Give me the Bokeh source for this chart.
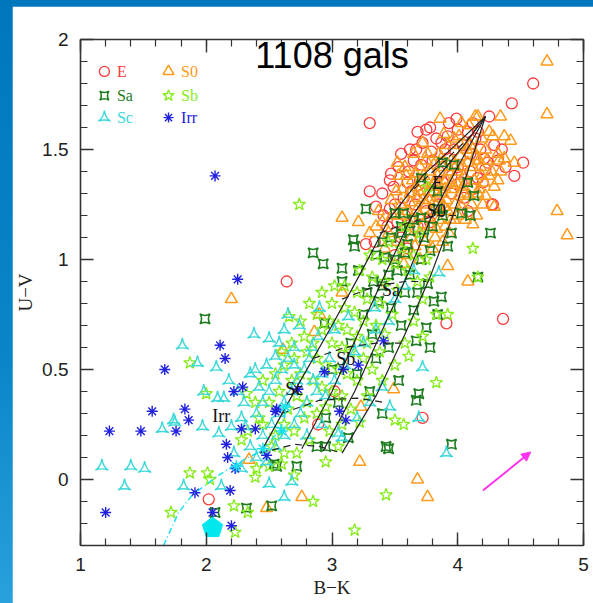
from bokeh.plotting import figure
from bokeh.models import LinearAxis, FixedTicker, Label, Arrow, NormalHead, Range1d
from bokeh.layouts import column
from bokeh.embed import file_html
from bokeh.resources import INLINE
from bokeh.core.properties import value

# ---------------- data ----------------
title_text = "1108 gals"
x_label = "B\u2212K"
y_label = "U\u2212V"
x_ticks = [1, 2, 3, 4, 5]
y_ticks = [0, 0.5, 1, 1.5, 2]
y_tick_labels = ["0", "0.5", "1", "1.5", "2"]

E_pts = [(4.60,1.80),(4.43,1.71),(4.25,1.65),(3.30,1.62),(3.30,1.31),(4.52,1.44),(4.45,1.38),(4.36,0.73),
         (3.91,0.71),(3.34,1.08),(3.27,1.07),(4.28,1.25),(3.46,1.23),(3.41,1.20),(2.64,0.90),(2.02,-0.09),
         (3.72,0.28),(2.89,0.25),(3.02,0.40),(3.55,1.48),(3.67,1.50),(3.75,1.59),(3.78,1.60),(3.47,1.39),
         (3.46,1.36),(3.49,1.33),(4.29,1.52),(4.22,1.41),(4.27,1.25),(4.00,1.59),(4.08,1.58),(4.16,1.58),
         (4.14,1.55),(3.65,1.45),(3.79,1.49),(3.87,1.53),(3.92,1.56),(3.97,1.50),(4.04,1.52),(4.10,1.48),
         (4.21,1.46),(4.24,1.44),(3.57,1.28),(3.63,1.31),(3.73,1.30),(3.81,1.31),(3.53,1.42),(3.61,1.40),
         (3.71,1.43),(3.92,1.46),(4.00,1.42),(4.10,1.40),(4.16,1.37),(4.03,1.35),(3.85,1.40),(3.80,1.45),
         (3.88,1.35),(3.95,1.38),(3.70,1.36),(3.60,1.35),(3.66,1.25),(3.58,1.20),(3.52,1.17),(3.75,1.22),
         (3.85,1.25),(3.95,1.30),(4.05,1.28),(4.12,1.32),(4.20,1.35),(4.32,1.45),(4.35,1.50),(4.18,1.50),
         (3.83,1.55),(3.72,1.53),(3.62,1.50),(3.93,1.62),(3.99,1.64),(3.50,1.25),(3.44,1.15),(3.55,1.10),
         (3.68,1.15),(3.78,1.17),(4.08,1.22),(3.40,1.30),(3.35,1.24),(4.38,1.42),(4.12,1.62),(3.90,1.50),
         (3.68,1.58),(3.60,1.05),(3.50,1.02)]

S0_pts = [(4.71,1.90),(4.71,1.66),(4.34,1.65),(3.86,1.64),(4.03,1.62),(4.14,1.65),(4.79,1.22),(4.87,1.11),
          (4.08,0.90),(3.92,0.97),(3.08,1.19),(3.21,1.17),(3.08,0.85),(2.86,0.67),(2.20,0.82),(2.61,0.59),
          (2.90,0.75),(3.49,0.41),(3.23,0.33),(2.34,0.09),(2.48,-0.13),(2.76,-0.08),(3.68,0.00),(3.76,-0.08),
          (3.22,0.08),(4.16,1.65),(4.09,1.61),(4.28,1.56),(4.37,1.56),(4.42,1.54),(4.32,1.48),(4.33,1.45),
          (4.37,1.46),(4.45,1.44),(4.34,1.40),(4.32,1.36),(4.21,1.35),(4.29,1.33),(4.22,1.29),(4.29,1.24),
          (3.52,1.44),(3.53,1.38),(3.51,1.31),(3.47,1.27),(3.37,1.22),(3.72,1.53),(3.89,1.57),(4.01,1.56),
          (3.66,1.39),(3.69,1.31),(3.77,1.27),(4.01,1.29),(4.17,1.32),(4.11,1.25),(3.60,1.22),(3.65,1.18),
          (3.70,1.20),(3.75,1.25),(3.80,1.22),(3.85,1.28),(3.90,1.32),(3.95,1.35),(4.00,1.40),(4.05,1.38),
          (3.82,1.35),(3.78,1.40),(3.72,1.35),(3.68,1.28),(3.62,1.30),(3.88,1.42),(3.95,1.45),(4.02,1.47),
          (4.08,1.44),(4.12,1.42),(3.58,1.15),(3.63,1.10),(3.70,1.12),(3.78,1.15),(3.85,1.18),(3.92,1.22),
          (3.98,1.25),(4.05,1.30),(3.55,1.25),(3.48,1.20),(3.45,1.12),(3.52,1.08),(3.60,1.02),(3.66,1.06),
          (3.74,1.08),(3.82,1.10),(3.90,1.15),(3.97,1.18),(4.15,1.20),(4.20,1.25),(4.25,1.38),(4.18,1.42),
          (3.40,1.17),(3.42,1.05),(3.57,0.98),(3.70,1.00),(3.80,1.05),(3.88,1.08),(3.93,1.12),(3.75,1.45),
          (3.85,1.48),(3.65,1.48),(3.58,1.42),(3.92,1.52),(4.10,1.52),(4.22,1.50),(4.25,1.58),(3.35,1.15),
          (3.30,1.12),
          (3.62,1.26),(3.67,1.33),(3.73,1.38),(3.79,1.33),(3.84,1.38),(3.86,1.22),(3.91,1.27),(3.96,1.32),
          (4.00,1.34),(4.04,1.42),(4.07,1.35),(4.13,1.36),(4.16,1.30),(4.19,1.38),(4.23,1.45),(4.27,1.40),
          (3.76,1.19),(3.81,1.26),(3.88,1.30),(3.93,1.40),(3.98,1.42),(4.03,1.24),(4.09,1.29),(4.14,1.47),
          (4.19,1.55),(3.70,1.42),(3.76,1.48),(3.81,1.43),(3.87,1.46),(3.64,1.36),(3.56,1.32),(3.59,1.38),
          (3.54,1.20),(3.61,1.17),(3.67,1.22),(3.73,1.16),(3.83,1.14),(3.89,1.24),(3.94,1.18),(4.00,1.20),
          (4.06,1.18),(4.12,1.16),(4.02,1.52),(4.07,1.50),(3.97,1.55),(4.12,1.50),(4.17,1.45),(3.72,1.27),
          (3.78,1.31),(3.91,1.36),(3.86,1.33),(4.04,1.33)]

Sa_pts = [(3.27,1.23),(2.85,1.03),(2.93,0.98),(3.17,1.09),(3.18,1.06),(3.08,0.96),(3.08,0.90),(4.26,1.12),
          (4.10,1.20),(4.16,0.92),(3.84,0.75),(3.75,0.69),(3.67,0.63),(3.53,0.45),(3.69,0.39),(2.94,0.71),
          (3.88,1.44),(3.97,1.43),(4.08,1.35),(4.13,1.29),(3.71,1.37),(3.84,1.31),(1.99,0.73),(2.07,-0.15),
          (2.32,-0.13),(2.52,-0.12),(2.56,0.06),(2.72,0.06),(3.45,0.14),(3.95,0.16),(2.88,0.15),(3.13,0.19),
          (3.67,0.36),(2.54,0.07),(3.43,0.15),(3.50,1.21),(3.57,1.21),(3.71,1.19),(3.84,1.23),(4.03,1.21),
          (3.95,1.12),(3.47,1.10),(3.55,1.12),(3.60,1.07),(3.50,1.00),(3.42,1.01),(3.71,1.00),(3.21,0.95),
          (3.37,0.81),(3.47,0.78),(3.65,0.77),(3.76,0.89),(3.87,0.83),(3.81,0.81),(3.55,1.15),(3.62,1.13),
          (3.65,1.18),(3.58,1.03),(3.52,0.95),(3.45,0.93),(3.40,0.88),(3.62,0.93),(3.68,0.85),(3.33,0.90),
          (3.28,0.85),(3.58,0.85),(3.73,1.10),(3.78,1.04),(3.35,1.02),(3.40,1.08),(3.80,1.15),(3.88,1.20),
          (3.92,1.06),(3.25,0.75),(3.15,0.62),(3.32,0.66),(3.55,0.70),(3.00,0.50),(3.20,0.48),(3.35,0.55),
          (2.95,0.28),(3.05,0.35),(3.30,0.40),(3.45,0.60),(3.78,0.60),(3.40,0.30),(2.95,0.15)]

Sb_pts = [(2.74,1.25),(4.12,1.05),(4.16,0.92),(3.92,0.75),(3.61,0.56),(3.83,0.44),(1.87,0.53),(2.66,0.74),
          (2.00,0.39),(2.32,0.39),(1.87,0.03),(2.01,0.03),(2.03,0.00),(1.72,-0.15),(2.22,-0.12),(2.33,-0.15),
          (2.23,-0.24),(2.39,0.35),(2.42,0.28),(2.39,0.01),(2.50,0.06),(2.60,0.07),(2.85,-0.10),(3.43,-0.07),
          (3.18,-0.23),(3.57,0.25),(3.50,0.27),(3.22,0.26),(3.83,0.75),(3.76,1.33),
          (2.55,0.20),(2.62,0.25),(2.70,0.22),(2.78,0.28),(2.65,0.32),(2.72,0.38),(2.80,0.35),(2.88,0.30),
          (2.95,0.33),(2.58,0.40),(2.68,0.45),(2.75,0.48),(2.85,0.45),(2.92,0.42),(3.00,0.40),(3.08,0.38),
          (2.62,0.52),(2.70,0.55),(2.80,0.58),(2.88,0.55),(2.95,0.52),(3.05,0.50),(3.12,0.48),(3.20,0.45),
          (2.78,0.65),(2.85,0.62),(2.92,0.68),(3.00,0.62),(3.08,0.60),(3.15,0.58),(3.25,0.55),(3.32,0.50),
          (2.88,0.75),(2.98,0.72),(3.05,0.70),(3.12,0.68),(3.20,0.65),(3.28,0.62),(3.38,0.58),(3.00,0.80),
          (3.10,0.78),(3.18,0.76),(3.25,0.72),(3.35,0.70),(3.42,0.66),(3.10,0.88),(3.20,0.85),(3.28,0.82),
          (3.38,0.80),(3.48,0.75),(3.22,0.95),(3.32,0.92),(3.42,0.90),(3.52,0.86),(3.30,1.02),(3.40,1.00),
          (3.50,0.98),(3.60,0.95),(3.45,1.08),(3.55,1.05),(3.65,1.02),(3.58,1.15),(3.70,1.12),(3.02,0.88),
          (2.92,0.85),(2.82,0.80),(2.75,0.72),(2.68,0.62),(2.60,0.58),(2.55,0.48),(2.50,0.35),(2.45,0.25),
          (2.52,0.15),(2.62,0.12),(2.72,0.12),(2.82,0.18),(2.98,0.22),(3.08,0.25),(3.15,0.32),(3.28,0.38),
          (3.40,0.45),(3.50,0.52),(3.58,0.62),(3.65,0.72),(3.72,0.82),(3.78,0.92),(3.75,1.00),(3.68,0.90),
          (2.33,0.22),(2.28,0.18),(2.45,0.45),(2.40,0.05),(2.70,0.02),(2.95,0.08),(3.05,0.15),(3.72,0.65)]

Sc_pts = [(1.17,0.06),(1.40,0.06),(1.51,0.05),(1.35,-0.03),(1.82,-0.03),(1.65,0.23),(1.75,0.26),(1.97,0.24),
          (2.10,0.21),(2.12,-0.03),(2.50,-0.02),(2.68,-0.01),(2.62,-0.08),(1.81,0.61),(1.93,0.53),(2.08,0.51),
          (2.38,0.66),(2.50,0.64),(2.55,0.56),(2.39,0.50),(2.35,0.48),(1.98,0.40),(2.42,0.42),(2.65,0.75),
          (2.74,0.70),(1.74,0.27),(2.09,0.37),(2.14,0.37),(2.20,0.24),(2.28,0.28),(3.72,0.51),(2.90,0.78),
          (3.91,0.12),(3.46,0.33),(3.69,0.28),(3.08,0.19),(2.84,0.60),(2.89,0.65),(3.02,0.68),(3.13,0.74),
          (3.34,0.78),(3.05,0.21),(2.31,0.24),(3.85,0.94),
          (2.40,0.30),(2.45,0.35),(2.50,0.40),(2.55,0.45),(2.60,0.50),(2.65,0.55),(2.70,0.60),(2.45,0.20),
          (2.52,0.25),(2.58,0.30),(2.62,0.35),(2.68,0.40),(2.72,0.45),(2.78,0.50),(2.82,0.55),(2.55,0.15),
          (2.62,0.20),(2.70,0.25),(2.75,0.30),(2.80,0.35),(2.88,0.40),(2.92,0.48),(2.98,0.55),(2.35,0.15),
          (2.40,0.10),(2.48,0.08),(2.30,0.35),(2.25,0.40),(2.22,0.12),(2.28,0.05),(2.18,0.45),(2.48,0.52),
          (2.58,0.62),(2.62,0.68),(2.70,0.52),(2.85,0.45),(2.95,0.38),(3.02,0.45),(3.10,0.52),(3.18,0.58),
          (3.25,0.62),(3.35,0.68),(3.45,0.72),(3.50,0.82),(3.58,0.88),(3.65,0.95),(3.40,0.42),(3.30,0.35),
          (3.20,0.28),(2.92,0.25),(2.80,0.20)]

Irr_pts = [(2.07,1.38),(2.25,0.91),(2.11,0.61),(2.15,0.55),(1.67,0.50),(2.22,0.40),(2.29,0.42),(1.57,0.31),
           (1.83,0.32),(1.86,0.27),(1.23,0.22),(1.48,0.22),(1.76,0.22),(2.28,0.23),(2.39,0.23),(2.16,0.16),
           (2.17,0.10),(2.23,0.05),(2.19,-0.05),(1.20,-0.15),(2.05,-0.15),(2.20,-0.21),(1.91,-0.06),(2.55,0.31),
           (2.94,0.49),(3.09,0.50),(3.21,0.52),(2.56,0.32),(3.06,0.31),(3.11,0.27),(3.41,0.63),(2.73,0.41),
           (2.48,0.11)]

# model tracks (solid) and iso-age lines (dashed)
track_x = [[2.43,2.72,3.00,3.22,3.45,3.72,4.00,4.22],
           [2.76,3.00,3.22,3.42,3.62,3.85,4.05,4.22],
           [2.93,3.18,3.40,3.60,3.78,3.98,4.22],
           [3.08,3.35,3.58,3.78,3.95,4.08,4.22]]
track_y = [[0.12,0.42,0.70,0.93,1.18,1.38,1.53,1.65],
           [0.14,0.40,0.68,0.93,1.18,1.38,1.52,1.65],
           [0.13,0.40,0.68,0.93,1.18,1.40,1.65],
           [0.12,0.38,0.66,0.92,1.18,1.40,1.65]]
iso_x = [[2.43,2.70,2.90,3.08],[2.60,2.90,3.20,3.42],[2.85,3.10,3.35,3.55],
         [3.08,3.35,3.58,3.75],[3.38,3.62,3.85,4.00],[3.65,3.90,4.10,4.22]]
iso_y = [[0.12,0.16,0.15,0.12],[0.30,0.36,0.37,0.35],[0.55,0.60,0.62,0.62],
         [0.82,0.88,0.90,0.90],[1.12,1.17,1.20,1.20],[1.32,1.45,1.56,1.65]]
irr_track_x = [1.66,1.78,1.89,2.10,2.30,2.44,2.58,2.66]
irr_track_y = [-0.30,-0.15,-0.07,0.02,0.09,0.13,0.22,0.35]
irr_track_pts_x = [2.24,2.45,2.60,2.63]
irr_track_pts_y = [0.06,0.14,0.22,0.33]

track_labels = ["E", "S0", "Sa", "Sb", "Sc", "Irr"]
track_label_x = [3.84, 3.83, 3.47, 3.11, 2.70, 2.12]
track_label_y = [1.35, 1.22, 0.86, 0.55, 0.41, 0.29]

pentagon_x = [2.05]
pentagon_y = [-0.22]
arrow_start = (4.20, -0.05)
arrow_end = (4.58, 0.125)

# ---------------- styles ----------------
classes = [
    ("E",   E_pts,   "circle",       "#ff3a3a", 11, 1.3),
    ("S0",  S0_pts,  "triangle",     "#ff9a1a", 12, 1.5),
    ("Sa",  Sa_pts,  "square_pin",   "#1e7d1e", 10, 1.6),
    ("Sb",  Sb_pts,  "star",         "#86ec1c", 13, 1.3),
    ("Sc",  Sc_pts,  "triangle_pin", "#3cd8d8", 13, 1.4),
    ("Irr", Irr_pts, "asterisk",     "#2222dd", 11, 1.4),
]
legend_pos = {"E": (1.19, 1.855), "S0": (1.70, 1.855), "Sa": (1.19, 1.745),
              "Sb": (1.70, 1.745), "Sc": (1.19, 1.645), "Irr": (1.70, 1.645)}

p = figure(width=581, height=597, x_range=Range1d(1, 5), y_range=Range1d(-0.3, 2),
           output_backend="svg", toolbar_location=None,
           x_axis_type=None, y_axis_type=None,
           min_border_left=66, min_border_right=10, min_border_top=33, min_border_bottom=58,
           background_fill_color="white", border_fill_color="white")
p.margin = (6, 0, 0, 12)
p.xgrid.visible = False
p.ygrid.visible = False
p.outline_line_color = None

x_minor = [1 + 0.2 * i for i in range(21)]
y_minor = [-0.3 + 0.1 * i for i in range(24)]

def style_axis(ax, show_labels):
    ax.major_tick_in = 13
    ax.major_tick_out = 0
    ax.minor_tick_in = 7
    ax.minor_tick_out = 0
    ax.axis_line_color = "#333333"
    ax.axis_line_width = 1.6
    ax.major_tick_line_color = "#333333"
    ax.minor_tick_line_color = "#333333"
    ax.major_tick_line_width = 1.4
    ax.minor_tick_line_width = 1.2
    if show_labels:
        ax.major_label_text_font = "Liberation Sans"
        ax.major_label_text_font_size = "19px"
        ax.major_label_text_color = "#222222"
        ax.major_label_standoff = 12
        ax.axis_label_text_font = "Liberation Serif"
        ax.axis_label_text_font_size = "19px"
        ax.axis_label_text_font_style = "normal"
        ax.axis_label_text_color = "#222222"
    else:
        ax.major_label_text_color = None
        ax.major_label_text_font_size = "1px"
        ax.major_label_standoff = 0

xt = FixedTicker(ticks=x_ticks, minor_ticks=x_minor)
yt = FixedTicker(ticks=y_ticks, minor_ticks=y_minor)
overrides = {t: l for t, l in zip(y_ticks, y_tick_labels)}

ax_b = LinearAxis(ticker=xt, axis_label=x_label, axis_label_standoff=3)
style_axis(ax_b, True)
ax_l = LinearAxis(ticker=yt, axis_label=y_label, axis_label_standoff=3, major_label_overrides=overrides)
style_axis(ax_l, True)
ax_t = LinearAxis(ticker=xt)
style_axis(ax_t, False)
ax_r = LinearAxis(ticker=yt)
style_axis(ax_r, False)
p.add_layout(ax_b, "below")
p.add_layout(ax_l, "left")
p.add_layout(ax_t, "above")
p.add_layout(ax_r, "right")

for name, pts, marker, color, size, lw in classes:
    xs = [q[0] for q in pts]
    ys = [q[1] for q in pts]
    p.scatter(xs, ys, marker=marker, size=size, line_color=color, fill_color=None, line_width=lw)
    lx, ly = legend_pos[name]
    p.scatter([lx], [ly], marker=marker, size=size - 1, line_color=color, fill_color=None, line_width=lw)
    p.text([lx + 0.1], [ly], text=[name], text_color=color, text_font=value("Liberation Serif"),
           text_font_size="16px", text_baseline="middle", text_align="left")

# model tracks
p.multi_line(track_x, track_y, line_color="#222222", line_width=1.2)
p.multi_line(iso_x, iso_y, line_color="#222222", line_width=1.2, line_dash="7 5")
p.line(irr_track_x, irr_track_y, line_color="#19e0f0", line_width=1.5, line_dash="6 3 1 3")
p.scatter(irr_track_pts_x, irr_track_pts_y, marker="asterisk", size=12, line_color="#19e0f0", line_width=1.5)
p.text(track_label_x, track_label_y, text=track_labels, text_color="#111111",
       text_font=value("Liberation Serif"), text_font_size="18px",
       text_baseline="middle", text_align="center")

# pentagon marker
try:
    p.ngon(x=pentagon_x, y=pentagon_y, radius=0.085, n=5, fill_color="#00e8ee", line_color="#00e8ee",
           angle=0)
except Exception:
    p.scatter(pentagon_x, pentagon_y, marker="hex", size=20, fill_color="#00e8ee", line_color="#00e8ee")

# reddening arrow
mag = "#ff33ee"
p.add_layout(Arrow(end=NormalHead(size=9, fill_color=mag, line_color=mag),
                   x_start=arrow_start[0], y_start=arrow_start[1],
                   x_end=arrow_end[0], y_end=arrow_end[1],
                   line_color=mag, line_width=2))

# title overlapping the top axis
p.add_layout(Label(x=3.0, y=1.927, text=title_text, text_font="Liberation Sans",
                   text_font_size="36px", text_color="black", text_align="center",
                   text_baseline="alphabetic"))

page = column(p, styles={"background": "linear-gradient(to bottom, #0077bd 0%, #0a86c8 60%, #2aa0dc 100%)"})
open("out.html", "w").write(file_html(page, INLINE))
